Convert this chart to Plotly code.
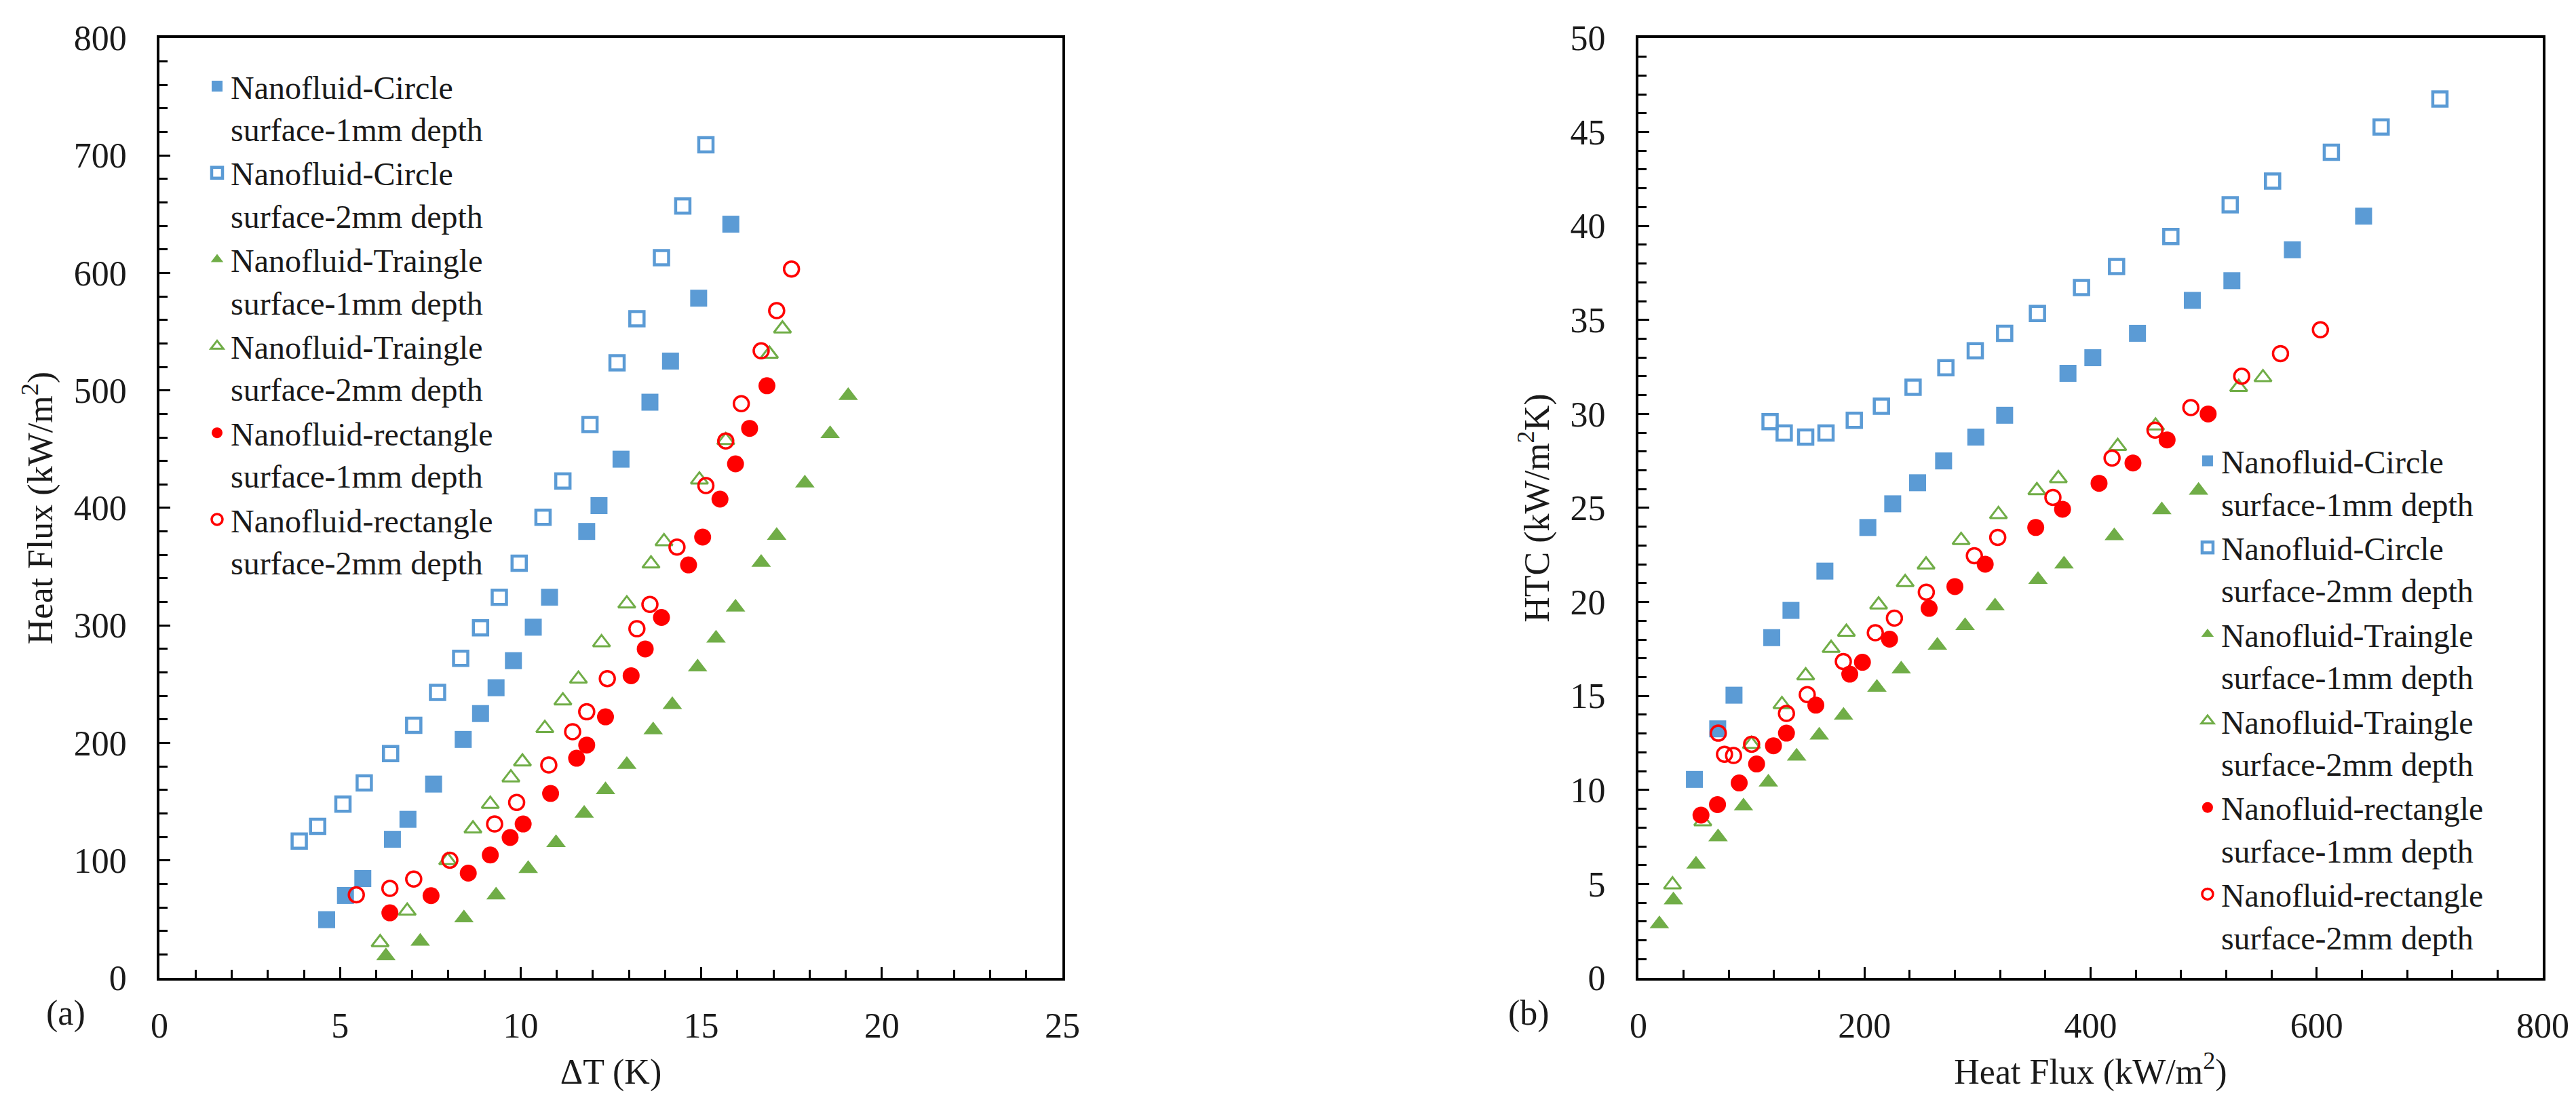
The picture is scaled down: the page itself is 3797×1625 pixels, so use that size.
import plotly.graph_objects as go

# ---- data ----
names = [
    "Nanofluid-Circle<br>surface-1mm depth",
    "Nanofluid-Circle<br>surface-2mm depth",
    "Nanofluid-Traingle<br>surface-1mm depth",
    "Nanofluid-Traingle<br>surface-2mm depth",
    "Nanofluid-rectangle<br>surface-1mm depth",
    "Nanofluid-rectangle<br>surface-2mm depth",
]

# Circle surface, 1 mm depth
dt_c1 = [4.63, 5.15, 5.63, 6.45, 6.88, 7.59, 8.41, 8.89, 9.32, 9.80, 10.35, 10.8,
         11.83, 12.17, 12.78, 13.58, 14.15, 14.93, 15.82]
hf_c1 = [49.6, 70.2, 84.6, 118, 135, 165, 203, 225, 247, 270, 298.5, 324,
         380, 402, 441.5, 490, 525, 578.5, 641.5]
htc_c1 = [10.56, 13.25, 15.04, 18.1, 19.55, 21.64, 23.96, 25.22, 26.34, 27.5, 28.77, 29.93,
          32.16, 32.99, 34.29, 36.04, 37.09, 38.73, 40.52]

# Circle surface, 2 mm depth
dt_c2 = [3.87, 4.38, 5.08, 5.67, 6.40, 7.04, 7.70, 8.34, 8.89, 9.41, 9.96, 10.62,
         11.17, 11.92, 12.67, 13.22, 13.9, 14.49, 15.13]
hf_c2 = [116.5, 129, 148, 166, 191, 215, 243, 272, 298, 324, 353, 392,
         423, 471, 523.5, 561, 613, 657, 709]
htc_c2 = [29.59, 28.99, 28.77, 28.99, 29.66, 30.41, 31.42, 32.46, 33.36, 34.29, 35.34, 36.72,
          37.84, 39.44, 41.12, 42.39, 43.92, 45.26, 46.75]

# Triangle surface, 1 mm depth
dt_t1 = [6.27, 7.22, 8.43, 9.32, 10.21, 10.98, 11.76, 12.35, 12.94, 13.67, 14.2, 14.9,
         15.41, 15.95, 16.66, 17.09, 17.87, 18.57, 19.07]
hf_t1 = [18.6, 31, 51, 70.5, 93, 115, 140, 160, 181.5, 211, 232.5, 264.5,
         289, 315.5, 353.5, 376.5, 421, 463, 495.5]
htc_t1 = [2.87, 4.14, 6.04, 7.5, 9.14, 10.41, 11.79, 12.91, 13.96, 15.45, 16.42, 17.69,
          18.73, 19.78, 21.19, 22.01, 23.51, 24.89, 25.93]

# Triangle surface, 2 mm depth
dt_t2 = [6.11, 6.86, 7.98, 8.68, 9.16, 9.73, 10.05, 10.67, 11.17, 11.6, 12.24, 12.94,
         13.61, 13.97, 14.95, 15.68, 16.89, 17.25]
hf_t2 = [30.2, 57, 100, 127, 148, 170.5, 184, 212.5, 236, 254.5, 285.5, 318.5,
         352.5, 371.5, 424, 457.5, 531, 552.5]
htc_t2 = [4.96, 8.32, 12.43, 14.55, 16.08, 17.54, 18.4, 19.85, 21.04, 21.98, 23.28, 24.66,
          25.93, 26.57, 28.28, 29.37, 31.42, 31.94]

# Rectangle surface, 1 mm depth
dt_r1 = [6.38, 7.52, 8.55, 9.16, 9.71, 10.07, 10.83, 11.55, 11.83, 12.35, 13.06, 13.45,
         13.9, 14.65, 15.04, 15.52, 15.95, 16.34, 16.82]
hf_r1 = [55.4, 70, 89.2, 104.6, 119.5, 131, 157, 187, 198.2, 222.2, 257.2, 280,
         306.8, 351.5, 375.2, 407.5, 437.5, 467.7, 504]
htc_r1 = [8.66, 9.22, 10.37, 11.38, 12.35, 13.02, 14.51, 16.16, 16.79, 18.02, 19.66, 20.82,
          22.01, 23.96, 24.93, 26.31, 27.39, 28.62, 30.0]

# Rectangle surface, 2 mm depth
dt_r2 = [5.45, 6.38, 7.04, 8.04, 9.28, 9.89, 10.78, 11.44, 11.83, 12.4, 13.22, 13.58,
         14.33, 15.13, 15.68, 16.11, 16.66, 17.09, 17.5]
hf_r2 = [70.7, 76.2, 84.2, 100.2, 131, 149.4, 181.3, 209.6, 226.5, 254.7, 297.2, 317.9,
         366.7, 419, 457, 488.7, 533.7, 568, 603.3]
htc_r2 = [13.02, 11.9, 11.83, 12.43, 14.07, 15.07, 16.83, 18.36, 19.14, 20.52, 22.46, 23.43,
          25.56, 27.65, 29.14, 30.34, 32.01, 33.21, 34.48]

BLUE = "#5B9BD5"
GREEN = "#70AD47"
RED = "#FF0000"
FONT = "Liberation Serif"
TXT = "#1a1a1a"

series = [
    (dt_c1, hf_c1, htc_c1, "square", BLUE, 25, 0),
    (dt_c2, hf_c2, htc_c2, "square-open", BLUE, 21, 4.5),
    (dt_t1, hf_t1, htc_t1, "triangle-up", GREEN, 25, 0),
    (dt_t2, hf_t2, htc_t2, "triangle-up-open", GREEN, 22, 3),
    (dt_r1, hf_r1, htc_r1, "circle", RED, 25, 0),
    (dt_r2, hf_r2, htc_r2, "circle-open", RED, 22, 3.5),
]

fig = go.Figure()

for name, (dt, hf, htc, sym, col, size, lw) in zip(names, series):
    marker = dict(symbol=sym, color=col, size=size, line=dict(color=col, width=lw))
    # (a) heat flux vs delta T
    fig.add_trace(go.Scatter(x=dt, y=hf, mode="markers", name=name, marker=marker,
                             xaxis="x", yaxis="y", legend="legend"))
    # (b) HTC vs heat flux
    fig.add_trace(go.Scatter(x=hf, y=htc, mode="markers", name=name, marker=marker,
                             xaxis="x2", yaxis="y2", legend="legend2"))

minor_tick = dict(ticks="inside", ticklen=12, tickwidth=3, tickcolor="black")
axis_common = dict(
    showline=True, linecolor="black", linewidth=4, mirror=True,
    ticks="inside", tickcolor="black", tickwidth=3, ticklen=16,
    showgrid=False, zeroline=False, automargin=False,
    tickfont=dict(family=FONT, size=52, color=TXT),
    title_font=dict(family=FONT, size=52, color=TXT),
)

legend_common = dict(
    xanchor="left", yanchor="top", valign="top",
    bgcolor="rgba(0,0,0,0)", borderwidth=0,
    font=dict(family=FONT, size=48, color=TXT), tracegroupgap=0,
)

fig.update_layout(
    template="none",
    width=3797, height=1625,
    margin=dict(l=0, r=0, t=0, b=0),
    paper_bgcolor="white", plot_bgcolor="white",
    font=dict(family=FONT, size=52, color=TXT),
    xaxis=dict(axis_common, domain=[0.0598, 0.4103], range=[0, 25], dtick=5,
               minor=dict(minor_tick, dtick=1), ticklabelstandoff=22,
               title=dict(text="ΔT (K)", standoff=22), anchor="y"),
    yaxis=dict(axis_common, domain=[0.1175, 0.9705], range=[0, 800], dtick=100,
               minor=dict(minor_tick, dtick=20), ticklabelstandoff=34,
               title=dict(text="Heat Flux (kW/m<sup>2</sup>)", standoff=15), anchor="x"),
    xaxis2=dict(axis_common, domain=[0.6339, 0.985], range=[0, 800], dtick=200,
                minor=dict(minor_tick, dtick=40), ticklabelstandoff=22,
                title=dict(text="Heat Flux (kW/m<sup>2</sup>)", standoff=22), anchor="y2"),
    yaxis2=dict(axis_common, domain=[0.1175, 0.9705], range=[0, 50], dtick=5,
                minor=dict(minor_tick, dtick=1), ticklabelstandoff=34,
                title=dict(text="HTC (kW/m<sup>2</sup>K)", standoff=15), anchor="x2"),
    legend=dict(legend_common, x=0.0769, y=0.95),
    legend2=dict(legend_common, x=0.8496, y=0.61),
    annotations=[
        dict(text="(a)", x=58 / 3797, y=1 - 1517 / 1625, xref="paper", yref="paper",
             showarrow=False, font=dict(family=FONT, size=52, color=TXT)),
        dict(text="(b)", x=2245 / 3797, y=1 - 1517 / 1625, xref="paper", yref="paper",
             showarrow=False, font=dict(family=FONT, size=52, color=TXT)),
    ],
)

fig.write_html("out.html")
